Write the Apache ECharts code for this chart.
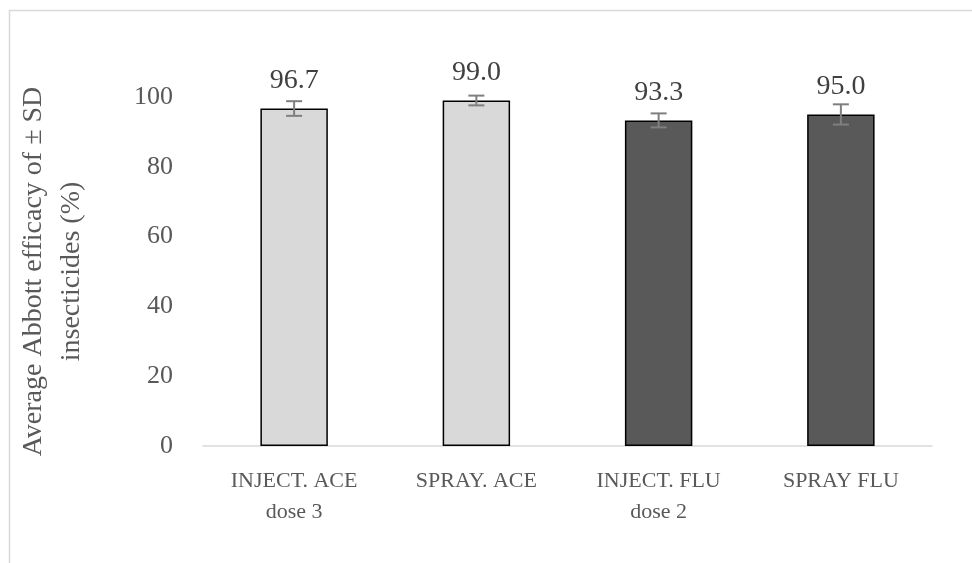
<!DOCTYPE html>
<html>
<head>
<meta charset="utf-8">
<script src="https://cdn.jsdelivr.net/npm/echarts@6/dist/echarts.min.js"></script>
<style>
  html, body { margin: 0; padding: 0; background: #fff; }
  #chart { width: 972px; height: 563px; }
</style>
</head>
<body>
<div id="chart"></div>
<script>
// data
const categories = ['INJECT. ACE\ndose 3', 'SPRAY. ACE', 'INJECT. FLU\ndose 2', 'SPRAY FLU'];
const efficacy = [96.7, 99.0, 93.3, 95.0];
const sd = [2.1, 1.4, 2.0, 2.9];
const barColors = ['#d9d9d9', '#d9d9d9', '#595959', '#595959'];
const yTicks = [0, 20, 40, 60, 80, 100];

const fontFamily = '"Liberation Serif", "DejaVu Serif", serif';

const chart = echarts.init(document.getElementById('chart'));

const option = {
  animation: false,
  textStyle: { fontFamily: fontFamily },
  graphic: [
    // chart area frame
    {
      type: 'rect',
      left: 7,
      top: 8,
      shape: { width: 1000, height: 600 },
      style: { fill: 'none', stroke: '#d9d9d9', lineWidth: 1.5 },
      silent: true
    }
  ],
  grid: { left: 203, right: 40, top: 97, bottom: 117 },
  xAxis: {
    type: 'category',
    data: categories,
    axisLine: { lineStyle: { color: '#d9d9d9', width: 1.5 } },
    axisTick: { show: false },
    axisLabel: {
      color: '#595959',
      fontSize: 22,
      fontFamily: fontFamily,
      lineHeight: 31,
      margin: 20
    }
  },
  yAxis: {
    type: 'value',
    min: yTicks[0],
    max: yTicks[yTicks.length - 1],
    interval: 20,
    name: 'Average Abbott efficacy of ± SD\ninsecticides (%)',
    nameLocation: 'middle',
    nameGap: 112,
    nameTextStyle: {
      color: '#595959',
      fontSize: 28,
      fontFamily: fontFamily,
      lineHeight: 38
    },
    axisLine: { show: false },
    axisTick: { show: false },
    splitLine: { show: false },
    axisLabel: {
      color: '#595959',
      fontSize: 26,
      fontFamily: fontFamily,
      margin: 30
    }
  },
  series: [
    {
      type: 'bar',
      barWidth: '37%',
      data: efficacy.map((v, i) => ({
        value: v,
        itemStyle: { color: barColors[i], borderColor: '#000', borderWidth: 1.5 }
      })),
      label: {
        show: true,
        position: 'top',
        distance: 14,
        color: '#404040',
        fontSize: 28,
        fontFamily: fontFamily,
        formatter: p => p.value.toFixed(1)
      }
    },
    {
      type: 'custom',
      clip: false,
      z: 5,
      data: efficacy.map((v, i) => [i, v, sd[i]]),
      renderItem: function (params, api) {
        const x = api.value(0);
        const y = api.value(1);
        const e = api.value(2);
        const top = api.coord([x, y + e]);
        const bot = api.coord([x, y - e]);
        const half = 8;
        const st = { stroke: '#7f7f7f', lineWidth: 2 };
        return {
          type: 'group',
          children: [
            { type: 'line', shape: { x1: top[0], y1: top[1], x2: bot[0], y2: bot[1] }, style: st },
            { type: 'line', shape: { x1: top[0] - half, y1: top[1], x2: top[0] + half, y2: top[1] }, style: st },
            { type: 'line', shape: { x1: bot[0] - half, y1: bot[1], x2: bot[0] + half, y2: bot[1] }, style: st }
          ]
        };
      }
    }
  ]
};

chart.setOption(option);
</script>
</body>
</html>
